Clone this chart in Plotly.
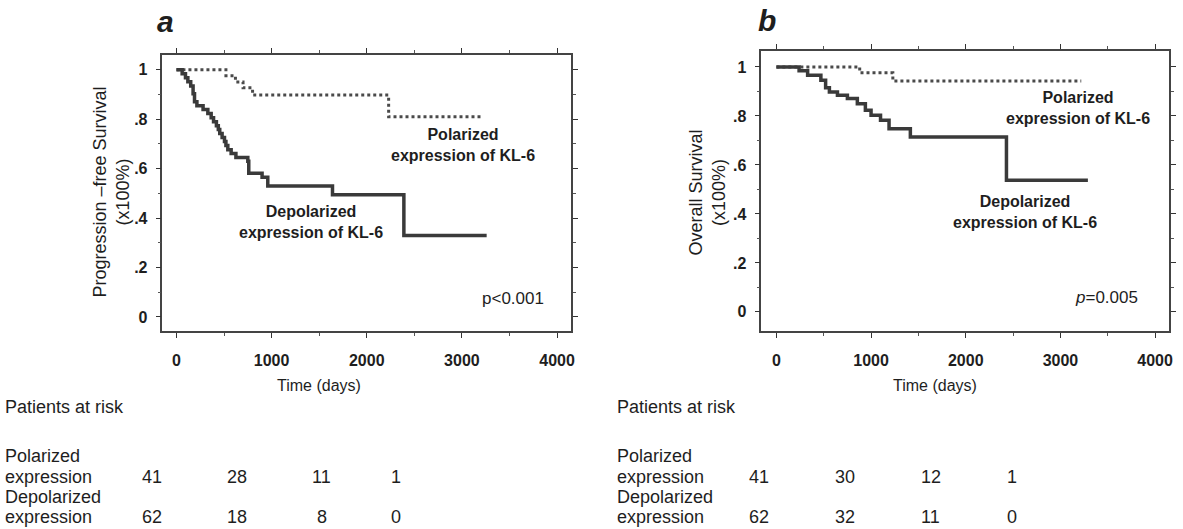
import plotly.graph_objects as go

W, H = 1183, 529
FONT = "Liberation Sans, Arial, sans-serif"
TXT = "#1e1e1e"

# ---------------- data ----------------
# Panel a: Progression-free survival
a_pol_days = [0, 520, 620, 700, 800, 2230, 3200]
a_pol_surv = [1.0, 0.976, 0.951, 0.927, 0.898, 0.81, 0.81]

a_dep_days = [0, 60, 95, 120, 150, 175, 190, 215, 280, 330, 365, 390, 420, 440, 455,
              480, 505, 520, 540, 575, 625, 750, 760, 900, 960, 1640, 2390, 3260]
a_dep_surv = [1.0, 0.984, 0.968, 0.952, 0.935, 0.903, 0.871, 0.855, 0.839, 0.823, 0.806,
              0.790, 0.774, 0.758, 0.742, 0.726, 0.710, 0.694, 0.677, 0.661, 0.645, 0.630,
              0.581, 0.565, 0.53, 0.494, 0.33, 0.33]

# Panel b: Overall survival
b_pol_days = [0, 880, 1230, 3220]
b_pol_surv = [1.0, 0.976, 0.943, 0.943]

b_dep_days = [0, 240, 330, 470, 520, 560, 645, 750, 855, 940, 1000, 1100, 1190, 1415, 2430, 3290]
b_dep_surv = [1.0, 0.984, 0.966, 0.946, 0.915, 0.898, 0.884, 0.871, 0.850, 0.823, 0.803,
              0.782, 0.748, 0.714, 0.537, 0.537]

# Patients at risk
risk_rows = [("Polarized", "expression"), ("Depolarized", "expression")]
a_risk_pol = [41, 28, 11, 1]
a_risk_dep = [62, 18, 8, 0]
b_risk_pol = [41, 30, 12, 1]
b_risk_dep = [62, 32, 11, 0]

x_ticks = [0, 1000, 2000, 3000, 4000]
y_ticks = [0, 0.2, 0.4, 0.6, 0.8, 1.0]
y_ticktext = ["0", ".2", ".4", ".6", ".8", "1"]


def px(x):
    return x / W


def py(y):
    return 1 - y / H


fig = go.Figure()

DEP_COLOR = "#3a3a3a"
POL_COLOR = "#4a4a4a"

fig.add_trace(go.Scatter(x=a_pol_days, y=a_pol_surv, mode="lines", line_shape="hv",
                         line=dict(color=POL_COLOR, width=3, dash="dot"),
                         xaxis="x", yaxis="y", showlegend=False))
fig.add_trace(go.Scatter(x=a_dep_days, y=a_dep_surv, mode="lines", line_shape="hv",
                         line=dict(color=DEP_COLOR, width=3.5),
                         xaxis="x", yaxis="y", showlegend=False))
fig.add_trace(go.Scatter(x=b_pol_days, y=b_pol_surv, mode="lines", line_shape="hv",
                         line=dict(color=POL_COLOR, width=3, dash="dot"),
                         xaxis="x2", yaxis="y2", showlegend=False))
fig.add_trace(go.Scatter(x=b_dep_days, y=b_dep_surv, mode="lines", line_shape="hv",
                         line=dict(color=DEP_COLOR, width=3.5),
                         xaxis="x2", yaxis="y2", showlegend=False))


def xaxis(domain, rng, anchor):
    return dict(domain=domain, range=rng, anchor=anchor, tickvals=x_ticks,
                ticks="outside", ticklen=5, tickwidth=1.2, tickcolor="#333",
                minor=dict(ticks="outside", dtick=500, tick0=0, ticklen=3, tickcolor="#555"),
                showline=True, linecolor="#444", linewidth=1.5, mirror="allticks",
                showgrid=False, zeroline=False, ticklabelstandoff=9,
                tickfont=dict(family=FONT, size=16, color=TXT, weight="bold"))


def yaxis(domain, rng, anchor):
    return dict(domain=domain, range=rng, anchor=anchor, tickvals=y_ticks, ticktext=y_ticktext,
                ticks="outside", ticklen=5, tickwidth=1.2, tickcolor="#333",
                minor=dict(ticks="outside", dtick=0.1, tick0=0, ticklen=3, tickcolor="#555"),
                showline=True, linecolor="#444", linewidth=1.5, mirror="allticks",
                showgrid=False, zeroline=False, ticklabelstandoff=5,
                tickfont=dict(family=FONT, size=16, color=TXT, weight="bold"))


fig.update_layout(
    width=W, height=H, margin=dict(l=0, r=0, t=0, b=0),
    paper_bgcolor="white", plot_bgcolor="white",
    xaxis=xaxis([px(163), px(573)], [-147, 4147], "y"),
    yaxis=yaxis([py(331), py(55)], [-0.057, 1.06], "x"),
    xaxis2=xaxis([px(764), px(1173)], [-158, 4147], "y2"),
    yaxis2=yaxis([py(331), py(51)], [-0.078, 1.065], "x2"),
)

ann = []


def add(text, x, y, size=16, bold=False, italic=False, xanchor="center", angle=0):
    ann.append(dict(text=text, x=px(x), y=py(y), xref="paper", yref="paper",
                    xanchor=xanchor, yanchor="middle", showarrow=False, textangle=angle,
                    font=dict(family=FONT, size=size, color=TXT,
                              weight="bold" if bold else "normal",
                              style="italic" if italic else "normal")))


# panel letters
add("a", 166, 22, size=30, bold=True, italic=True)
add("b", 770, 20, size=30, bold=True, italic=True)

# y titles
add("Progression –free Survival<br>(x100%)", 111, 192, size=18, angle=-90)
add("Overall Survival<br>(x100%)", 710, 193, size=18, angle=-90)

# x titles
add("Time (days)", 320, 385, size=16)
add("Time (days)", 938, 385, size=16)

# curve labels
add("Polarized<br>expression of KL-6", 465, 145, size=16, bold=True)
add("Depolarized<br>expression of KL-6", 312, 222, size=16, bold=True)
add("Polarized<br>expression of KL-6", 1082, 108, size=16, bold=True)
add("Depolarized<br>expression of KL-6", 1028, 212, size=16, bold=True)

# p values
add("p<0.001", 515, 298, size=17)
add("<i>p</i>=0.005", 1110, 297, size=17)

# patients at risk tables
table_specs = [
    (3, [153, 238, 323, 397], a_risk_pol, a_risk_dep),
    (617, [762, 848, 934, 1015], b_risk_pol, b_risk_dep),
]
row_y = [(456, 477), (497, 517)]
for x0, cols, pol, dep in table_specs:
    add("Patients at risk", x0, 407, size=18, xanchor="left")
    for (l1, l2), (y1, y2), vals in zip(risk_rows, row_y, [pol, dep]):
        add(l1, x0, y1, size=18, xanchor="left")
        add(l2, x0, y2, size=18, xanchor="left")
        for cx, v in zip(cols, vals):
            add(str(v), cx, y2, size=18)

fig.update_layout(annotations=ann)
fig.write_html("out.html")
